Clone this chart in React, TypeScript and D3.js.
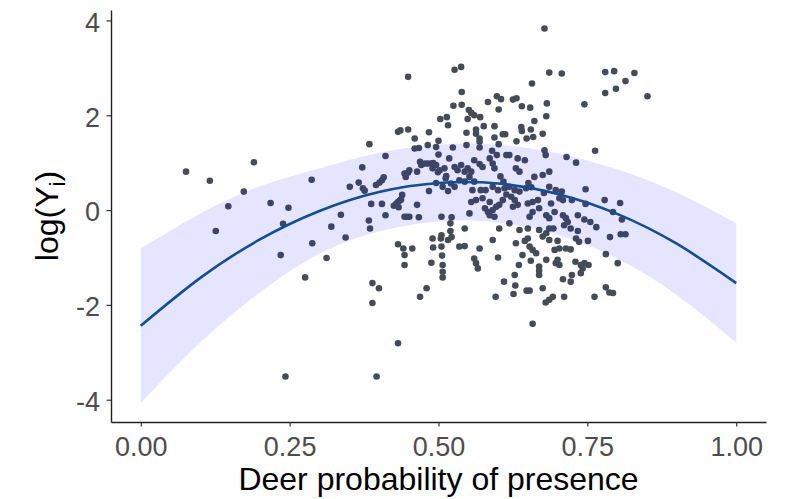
import React, { useEffect, useRef } from 'react';
import * as d3 from 'd3';

// Axis ticks
const xTicks = [0, 0.25, 0.5, 0.75, 1];
const xTickLabels = ['0.00', '0.25', '0.50', '0.75', '1.00'];
const yTicks = [-4, -2, 0, 2, 4];

// Fitted curve and its confidence band
const fitX = [0, 0.1, 0.2, 0.3, 0.4, 0.5, 0.6, 0.7, 0.8, 0.9, 1.0];
const fitY = [-2.44, -1.43, -0.62, -0.02, 0.38, 0.57, 0.56, 0.34, -0.08, -0.71, -1.54];
const fitLower = [-4.07, -2.79, -1.74, -0.92, -0.45, -0.24, -0.26, -0.52, -1.02, -1.79, -2.80];
const fitUpper = [-0.81, -0.07, 0.50, 0.88, 1.21, 1.38, 1.38, 1.20, 0.86, 0.37, -0.28];

// Observations: [deer probability of presence, log(Y)]
const observations: [number, number][] = [
  [0.076, 0.81], [0.116, 0.62], [0.190, 1.01], [0.173, 0.39], [0.147, 0.08], [0.126, -0.44],
  [0.218, 0.15], [0.248, 0.05], [0.239, -0.29], [0.235, -0.95], [0.243, -3.51], [0.287, 0.64],
  [0.288, -0.70], [0.320, -0.35], [0.312, -1.01], [0.276, -1.42], [0.336, -0.10], [0.344, -0.58],

  [0.351, 0.49], [0.366, 0.58], [0.372, 0.90], [0.373, 0.46], [0.376, 0.41], [0.384, 1.39],
  [0.395, 0.53], [0.401, 0.58], [0.405, 0.63], [0.408, 0.69], [0.411, 1.14], [0.387, 0.13],
  [0.405, 0.13], [0.411, -0.11], [0.383, -0.22], [0.385, -0.39], [0.389, -1.54], [0.400, -1.65],
  [0.389, -1.96], [0.396, -3.51],

  [0.429, 0.13], [0.432, 0.17], [0.435, 0.20], [0.437, 0.22], [0.439, 0.32], [0.425, 0.09],
  [0.433, 0.06], [0.432, 1.65], [0.436, 1.68], [0.449, 1.70], [0.460, 1.51], [0.460, 1.30],
  [0.449, 2.81], [0.445, 0.70], [0.451, 0.84], [0.449, 0.79], [0.443, 0.77], [0.464, 0.81],
  [0.469, 1.02], [0.467, 1.31], [0.464, 0.11], [0.443, -0.14], [0.447, -0.14], [0.451, -0.14],
  [0.467, -0.15], [0.432, -0.72], [0.441, -0.81], [0.443, -0.95], [0.443, -1.16], [0.456, -0.81],
  [0.432, -2.81], [0.469, -1.83], [0.480, -1.65],

  [0.471, 0.95], [0.477, 0.98], [0.482, 0.98], [0.488, 0.98], [0.491, 0.99], [0.496, 0.95],
  [0.502, 0.84], [0.510, 0.88], [0.513, 0.72], [0.484, 0.40], [0.490, 0.88], [0.499, 0.80],
  [0.482, 1.37], [0.484, 1.64], [0.500, 1.46], [0.496, 1.33], [0.500, 1.17], [0.503, 1.92],
  [0.514, 1.96], [0.516, 1.79], [0.496, 0.57], [0.507, 0.49], [0.512, 0.67], [0.521, 0.56],
  [0.527, 0.49], [0.535, 0.63], [0.544, 0.60], [0.516, 0.40], [0.524, 1.32], [0.518, 1.09],
  [0.505, -0.14], [0.522, -0.15], [0.520, -0.28], [0.490, -0.60], [0.491, -0.79], [0.504, -0.60],
  [0.505, -0.53], [0.505, -0.77], [0.516, -0.63], [0.520, -0.44], [0.522, -0.57], [0.506, -0.96],
  [0.488, -1.11], [0.507, -1.16], [0.507, -1.30], [0.507, -1.42],

  [0.527, 2.96], [0.538, 3.02], [0.539, 2.49], [0.525, 2.20], [0.539, 2.22], [0.551, 2.11],
  [0.555, 2.05], [0.560, 2.00], [0.570, 1.96], [0.549, 1.92], [0.583, 2.28], [0.598, 2.40],
  [0.547, 1.63], [0.563, 1.70], [0.563, 1.61], [0.569, 1.51], [0.576, 1.77], [0.594, 1.77],
  [0.594, 1.53], [0.569, 1.32], [0.569, 1.44], [0.547, 1.37],
  [0.527, 0.91], [0.532, 0.84], [0.538, 0.95], [0.544, 0.81], [0.549, 0.88], [0.555, 0.81],
  [0.560, 1.05], [0.569, 0.97], [0.574, 0.91], [0.586, 1.09], [0.591, 0.98], [0.594, 0.88],
  [0.557, 0.42], [0.571, 0.42], [0.579, 0.42], [0.591, 0.49], [0.555, 0.17], [0.563, 0.21],
  [0.574, 0.25], [0.586, 0.17], [0.578, 0.04], [0.583, -0.04], [0.591, 0.00], [0.597, 0.07],
  [0.552, -0.07], [0.586, -0.11], [0.594, -0.14], [0.544, -0.39], [0.535, -0.77], [0.544, -0.76],
  [0.569, -0.81], [0.591, -0.63], [0.552, 0.70], [0.560, 0.60], [0.590, 1.25], [0.560, -1.02],
  [0.563, -1.12], [0.566, -1.23], [0.600, -1.00], [0.596, -1.83], [0.602, -0.39],

  [0.605, 2.34], [0.601, 2.12], [0.625, 2.33], [0.631, 2.36], [0.640, 2.19], [0.654, 2.16],
  [0.657, 2.67], [0.678, 3.83], [0.686, 2.90], [0.682, 2.25], [0.681, 1.98], [0.661, 1.88],
  [0.639, 1.75], [0.640, 1.67], [0.655, 1.70], [0.675, 1.61], [0.659, 1.54], [0.648, 1.51],
  [0.631, 1.45], [0.608, 1.60], [0.612, 1.60], [0.601, 1.39], [0.678, 1.26], [0.680, 1.16],
  [0.614, 1.16], [0.619, 1.16], [0.633, 1.09], [0.630, 0.88], [0.636, 0.81], [0.661, 0.70],
  [0.675, 0.74], [0.686, 0.81], [0.600, 0.42], [0.611, 0.46], [0.619, 0.49], [0.628, 0.42],
  [0.636, 0.39], [0.602, 0.11], [0.608, 0.21], [0.622, 0.28], [0.628, 0.21], [0.625, 0.07],
  [0.633, 0.11], [0.650, 0.14], [0.658, 0.17], [0.667, 0.21], [0.658, -0.04], [0.669, 0.04],
  [0.681, -0.11], [0.686, -0.17], [0.619, -0.28], [0.636, -0.42], [0.650, -0.39], [0.669, -0.42],
  [0.681, -0.49], [0.630, -0.70], [0.650, -0.60], [0.653, -0.77], [0.658, -0.84], [0.664, -0.91],
  [0.675, -0.56], [0.686, -0.63], [0.695, -0.84], [0.686, 0.49], [0.689, 0.14], [0.695, -0.04],
  [0.686, -0.39], [0.693, -0.39], [0.700, -0.65],
  [0.598, 1.16], [0.645, 1.05], [0.604, 0.71], [0.609, 0.60], [0.614, 0.33], [0.647, 0.46],
  [0.651, 0.57], [0.656, 0.48], [0.653, -0.14], [0.677, 0.36], [0.645, -0.65],
  [0.641, -0.95], [0.635, -1.16], [0.655, -1.07], [0.628, -1.37], [0.610, -1.51], [0.629, -1.59],
  [0.626, -1.77], [0.648, -1.70], [0.653, -1.70], [0.675, -1.65], [0.669, -1.19], [0.669, -1.28],
  [0.669, -1.37], [0.681, -1.05], [0.697, -1.12], [0.680, -1.95], [0.686, -1.89], [0.692, -1.83],
  [0.658, -2.40],

  [0.707, 2.88], [0.780, 2.91], [0.795, 2.93], [0.829, 2.89], [0.814, 2.72], [0.798, 2.56],
  [0.780, 2.47], [0.851, 2.40], [0.745, 2.23], [0.763, 1.25], [0.715, 1.12], [0.731, 1.00],
  [0.697, 0.42], [0.707, 0.39], [0.703, 0.25], [0.709, 0.21], [0.724, 0.21], [0.747, 0.44],
  [0.747, 0.13], [0.779, 0.21], [0.805, 0.15], [0.793, -0.04], [0.808, -0.20], [0.709, -0.11],
  [0.714, -0.17], [0.717, -0.25], [0.711, -0.32], [0.722, -0.39], [0.734, -0.11], [0.745, -0.20],
  [0.755, -0.25], [0.734, -0.44], [0.765, -0.36], [0.731, -0.60], [0.736, -0.67], [0.751, -0.65],
  [0.788, -0.57], [0.806, -0.51], [0.814, -0.51], [0.703, -0.81], [0.714, -0.81], [0.722, -0.83],
  [0.781, -0.93],
  [0.700, -1.05], [0.703, -1.16], [0.730, -1.09], [0.739, -1.16], [0.745, -1.12], [0.752, -1.16],
  [0.742, -1.23], [0.739, -1.33], [0.724, -1.37], [0.722, -1.51], [0.709, -1.46], [0.801, -1.12],
  [0.781, -1.63], [0.787, -1.74], [0.793, -1.75], [0.762, -1.83], [0.711, -1.83],
];

const FONT = '"Liberation Sans", Arial, sans-serif';

const App: React.FC = () => {
  const chartRef = useRef<SVGSVGElement>(null);

  useEffect(() => {
    const width = 795;
    const height = 499;
    const panelLeft = 111;
    const panelRight = 766;
    const panelTop = 10;
    const panelBottom = 422;

    const svg = d3.select(chartRef.current).attr('width', width).attr('height', height);
    svg.selectAll('*').remove();

    // scales (ggplot style 5% expansion)
    const x = d3.scaleLinear().domain([-0.05, 1.05]).range([panelLeft, panelRight]);
    const y = d3.scaleLinear().domain([-4.47, 4.22]).range([panelBottom, panelTop]);

    // points
    svg
      .append('g')
      .selectAll('circle')
      .data(observations)
      .enter()
      .append('circle')
      .attr('cx', (d) => x(d[0]))
      .attr('cy', (d) => y(d[1]))
      .attr('r', 3.3)
      .attr('fill', '#454c56');

    const fit = fitX.map((v, i) => ({ x: v, fit: fitY[i], lo: fitLower[i], hi: fitUpper[i] }));

    // confidence ribbon (drawn over the points, like geom_ribbon with alpha)
    const area = d3
      .area<{ x: number; lo: number; hi: number }>()
      .x((d) => x(d.x))
      .y0((d) => y(d.lo))
      .y1((d) => y(d.hi))
      .curve(d3.curveNatural);
    svg.append('path').datum(fit).attr('d', area).attr('fill', '#0000ff').attr('fill-opacity', 0.1);

    // fitted line
    const line = d3
      .line<{ x: number; fit: number }>()
      .x((d) => x(d.x))
      .y((d) => y(d.fit))
      .curve(d3.curveNatural);
    svg
      .append('path')
      .datum(fit)
      .attr('d', line)
      .attr('fill', 'none')
      .attr('stroke', '#104e95')
      .attr('stroke-width', 2.6);

    // y axis
    const yAxis = svg
      .append('g')
      .attr('transform', `translate(${panelLeft},0)`)
      .call(
        d3
          .axisLeft(y)
          .tickValues(yTicks)
          .tickSizeInner(4.5)
          .tickSizeOuter(0)
          .tickPadding(6.5)
          .tickFormat((d) => String(d))
      );
    yAxis.select('.domain').attr('stroke', '#222').attr('stroke-width', 1.4);
    yAxis.selectAll('.tick line').attr('stroke', '#333').attr('stroke-width', 1.2);
    yAxis
      .selectAll('text')
      .attr('dy', '0.4em')
      .style('font-family', FONT)
      .style('font-size', '27px')
      .attr('fill', '#4d4d4d');

    // x axis
    const xAxis = svg
      .append('g')
      .attr('transform', `translate(0,${panelBottom})`)
      .call(
        d3
          .axisBottom(x)
          .tickValues(xTicks)
          .tickSizeInner(4.5)
          .tickSizeOuter(0)
          .tickPadding(10.5)
          .tickFormat((_, i) => xTickLabels[i])
      );
    xAxis.select('.domain').attr('stroke', '#222').attr('stroke-width', 1.4);
    xAxis.selectAll('.tick line').attr('stroke', '#333').attr('stroke-width', 1.2);
    xAxis
      .selectAll('text')
      .style('font-family', FONT)
      .style('font-size', '27px')
      .attr('fill', '#4d4d4d');

    // axis titles
    svg
      .append('text')
      .attr('x', (panelLeft + panelRight) / 2)
      .attr('y', 490)
      .attr('text-anchor', 'middle')
      .style('font-family', FONT)
      .style('font-size', '32px')
      .attr('fill', '#000')
      .text('Deer probability of presence');

    const yTitle = svg
      .append('text')
      .attr('transform', `translate(58,${(panelTop + panelBottom) / 2}) rotate(-90)`)
      .attr('text-anchor', 'middle')
      .style('font-family', FONT)
      .style('font-size', '32px')
      .attr('fill', '#000');
    yTitle.append('tspan').text('log(Y');
    yTitle.append('tspan').attr('dy', 7).style('font-size', '22px').text('i');
    yTitle.append('tspan').attr('dy', -7).text(')');
  }, []);

  return (
    <div>
      <svg ref={chartRef} style={{ position: 'absolute', left: 0, top: 0 }}></svg>
    </div>
  );
};

export default App;
